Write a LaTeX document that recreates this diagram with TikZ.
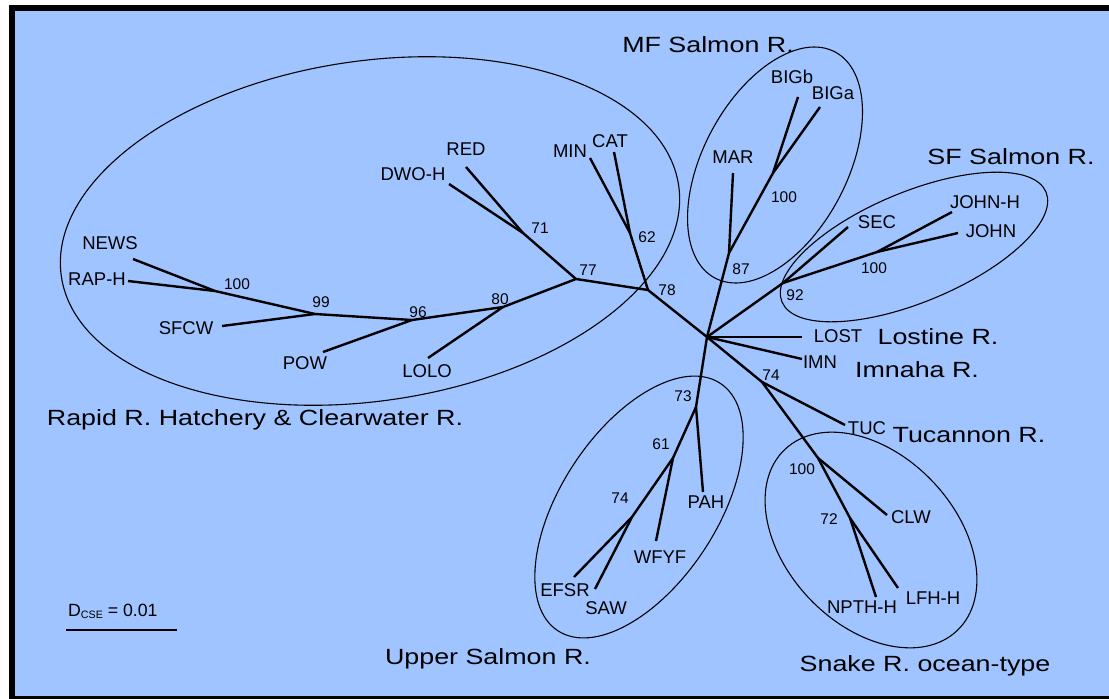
\documentclass[tikz,border=0pt]{standalone}
\usepackage{fontspec}
\setmainfont{Liberation Sans}
\newfontfamily\widesans[FakeStretch=1.22]{Liberation Sans}
\definecolor{panelblue}{RGB}{160,196,255}

\begin{document}
\begin{tikzpicture}[x=1pt, y=-1pt,
    branch/.style={line width=2.4pt, line join=round},
    group/.style={line width=1.1pt},
    taxon/.style={inner sep=0pt, font=\fontsize{18.5}{20}\selectfont, text height=13.2pt, text depth=0pt},
    boot/.style={inner sep=0pt, font=\fontsize{15.5}{17}\selectfont, text height=11.1pt, text depth=0pt},
    region/.style={inner sep=0pt, font=\widesans\fontsize{22}{24}\selectfont, text height=15.8pt, text depth=0pt}]
      \useasboundingbox (0,0) rectangle (1109,699);
      \fill[white] (0,0) rectangle (1109,699);
      \fill[black] (9,5) rectangle (1115,699);
      \fill[panelblue] (15,11) rectangle (1115,696);

      % groups
      \draw[group, rotate around={8.4:(370,231)}] (370,231) ellipse [x radius=312pt, y radius=170pt];
      \draw[group, rotate around={62:(775,165)}] (775,165) ellipse [x radius=128pt, y radius=72pt];
      \draw[group, rotate around={22.6:(914,247)}] (914,247) ellipse [x radius=143pt, y radius=55pt];
      \draw[group, rotate around={56.7:(639,507)}] (639,507) ellipse [x radius=148pt, y radius=78pt];
      \draw[group, rotate around={-46.4:(871,540)}] (871,540) ellipse [x radius=125pt, y radius=85pt];

      % inner points of the tree
      \coordinate (hub) at (707,337);
      \coordinate (n78) at (648,290);
      \coordinate (n77) at (576,279);
      \coordinate (n62) at (630,233);
      \coordinate (n71) at (523,233);
      \coordinate (n80) at (503,307);
      \coordinate (n96) at (412,320);
      \coordinate (n99) at (315,314);
      \coordinate (n100a) at (215,291);
      \coordinate (n87) at (729,253);
      \coordinate (n100b) at (773,173);
      \coordinate (n92) at (783,283);
      \coordinate (n100c) at (877,252);
      \coordinate (n74a) at (762,382);
      \coordinate (n100d) at (818,458);
      \coordinate (n72) at (850,518);
      \coordinate (n73) at (696,407);
      \coordinate (n61) at (673,458);
      \coordinate (n74b) at (632,517);

      % tips
      \coordinate (newsE) at (133,259);
      \coordinate (raphE) at (128,281);
      \coordinate (sfcwE) at (222,326);
      \coordinate (powE) at (323,352);
      \coordinate (loloE) at (428,358);
      \coordinate (redE) at (466,167);
      \coordinate (dwohE) at (449,184);
      \coordinate (minE) at (590,158);
      \coordinate (catE) at (614,152);
      \coordinate (marE) at (733,173);
      \coordinate (bigbE) at (798,97);
      \coordinate (bigaE) at (820,107);
      \coordinate (secE) at (848,227);
      \coordinate (johnhE) at (952,212);
      \coordinate (johnE) at (958,233);
      \coordinate (lostE) at (802,337);
      \coordinate (imnE) at (802,359);
      \coordinate (tucE) at (845,425);
      \coordinate (clwE) at (887,515);
      \coordinate (npthE) at (876,597);
      \coordinate (lfhE) at (898,588);
      \coordinate (pahE) at (703,492);
      \coordinate (wfyfE) at (656,541);
      \coordinate (efsrE) at (574,577);
      \coordinate (sawE) at (595,589);

      \draw[branch] (hub) -- (n78) -- (n77) -- (n80) -- (n96) -- (n99) -- (n100a) -- (newsE);
      \draw[branch] (n100a) -- (raphE);
      \draw[branch] (n99) -- (sfcwE);
      \draw[branch] (n96) -- (powE);
      \draw[branch] (n80) -- (loloE);
      \draw[branch] (n77) -- (n71) -- (redE);
      \draw[branch] (n71) -- (dwohE);
      \draw[branch] (n78) -- (n62) -- (minE);
      \draw[branch] (n62) -- (catE);
      \draw[branch] (hub) -- (n87) -- (n100b) -- (bigbE);
      \draw[branch] (n100b) -- (bigaE);
      \draw[branch] (n87) -- (marE);
      \draw[branch] (hub) -- (n92) -- (n100c) -- (johnhE);
      \draw[branch] (n100c) -- (johnE);
      \draw[branch] (n92) -- (secE);
      \draw[branch] (hub) -- (lostE);
      \draw[branch] (hub) -- (imnE);
      \draw[branch] (hub) -- (n74a) -- (tucE);
      \draw[branch] (n74a) -- (n100d) -- (clwE);
      \draw[branch] (n100d) -- (n72) -- (npthE);
      \draw[branch] (n72) -- (lfhE);
      \draw[branch] (hub) -- (n73) -- (pahE);
      \draw[branch] (n73) -- (n61) -- (wfyfE);
      \draw[branch] (n61) -- (n74b) -- (efsrE);
      \draw[branch] (n74b) -- (sawE);

      % taxa
      \node[taxon] (news) at (110,243) {NEWS};
      \node[taxon] (raph) at (97,279) {RAP-H};
      \node[taxon] (sfcw) at (186,328) {SFCW};
      \node[taxon] (pow) at (305,363) {POW};
      \node[taxon] (lolo) at (427,371) {LOLO};
      \node[taxon] (dwoh) at (413,174) {DWO-H};
      \node[taxon] (red) at (466,149) {RED};
      \node[taxon] (min) at (570,151) {MIN};
      \node[taxon] (cat) at (610,141) {CAT};
      \node[taxon] (mar) at (733,157) {MAR};
      \node[taxon] (bigb) at (792,77) {BIGb};
      \node[taxon] (biga) at (833,93) {BIGa};
      \node[taxon] (sec) at (877,222) {SEC};
      \node[taxon] (johnh) at (985,202) {JOHN-H};
      \node[taxon] (john) at (991,231) {JOHN};
      \node[taxon] (lost) at (838,336) {LOST};
      \node[taxon] (imn) at (820,362) {IMN};
      \node[taxon] (tuc) at (867,428) {TUC};
      \node[taxon] (clw) at (911,517) {CLW};
      \node[taxon] (npth) at (862,607) {NPTH-H};
      \node[taxon] (lfh) at (933,598) {LFH-H};
      \node[taxon] (pah) at (706,502) {PAH};
      \node[taxon] (wfyf) at (660,557) {WFYF};
      \node[taxon] (efsr) at (565,590) {EFSR};
      \node[taxon] (saw) at (606,608) {SAW};

      % bootstrap values
      \node[boot] (b100a) at (237,284) {100};
      \node[boot] (b99) at (321,302) {99};
      \node[boot] (b96) at (418,312) {96};
      \node[boot] (b80) at (500,299) {80};
      \node[boot] (b71) at (540,228) {71};
      \node[boot] (b77) at (588,270) {77};
      \node[boot] (b62) at (647,237) {62};
      \node[boot] (b78) at (667,290) {78};
      \node[boot] (b100b) at (784,197) {100};
      \node[boot] (b87) at (741,269) {87};
      \node[boot] (b100c) at (874,268) {100};
      \node[boot] (b92) at (795,295) {92};
      \node[boot] (b74a) at (771,375) {74};
      \node[boot] (b73) at (683,396) {73};
      \node[boot] (b61) at (661,444) {61};
      \node[boot] (b74b) at (620,498) {74};
      \node[boot] (b100d) at (802,469) {100};
      \node[boot] (b72) at (829,519) {72};

      % rivers
      \node[region] (rapid) at (255,418) {Rapid R. Hatchery \& Clearwater R.};
      \node[region] (mf) at (708,45) {MF Salmon R.};
      \node[region] (sf) at (1011,157) {SF Salmon R.};
      \node[region] (lostine) at (938,337) {Lostine R.};
      \node[region] (imnaha) at (917,370) {Imnaha R.};
      \node[region] (tucannon) at (969,435) {Tucannon R.};
      \node[region] (snake) at (925,664) {Snake R. ocean-type};
      \node[region] (upper) at (488,657) {Upper Salmon R.};

      % scale
      \node[inner sep=0pt, anchor=west, font=\fontsize{17.7}{19}\selectfont, text height=12.7pt, text depth=0pt] (scale) at (68,610)
        {D\raisebox{-2pt}{\fontsize{10.7}{11}\selectfont CSE} = 0.01};
      \coordinate (barL) at (66,630);
      \coordinate (barR) at (177,630);
      \draw[line width=1.8pt] (barL) -- (barR);
    \end{tikzpicture}
\end{document}
